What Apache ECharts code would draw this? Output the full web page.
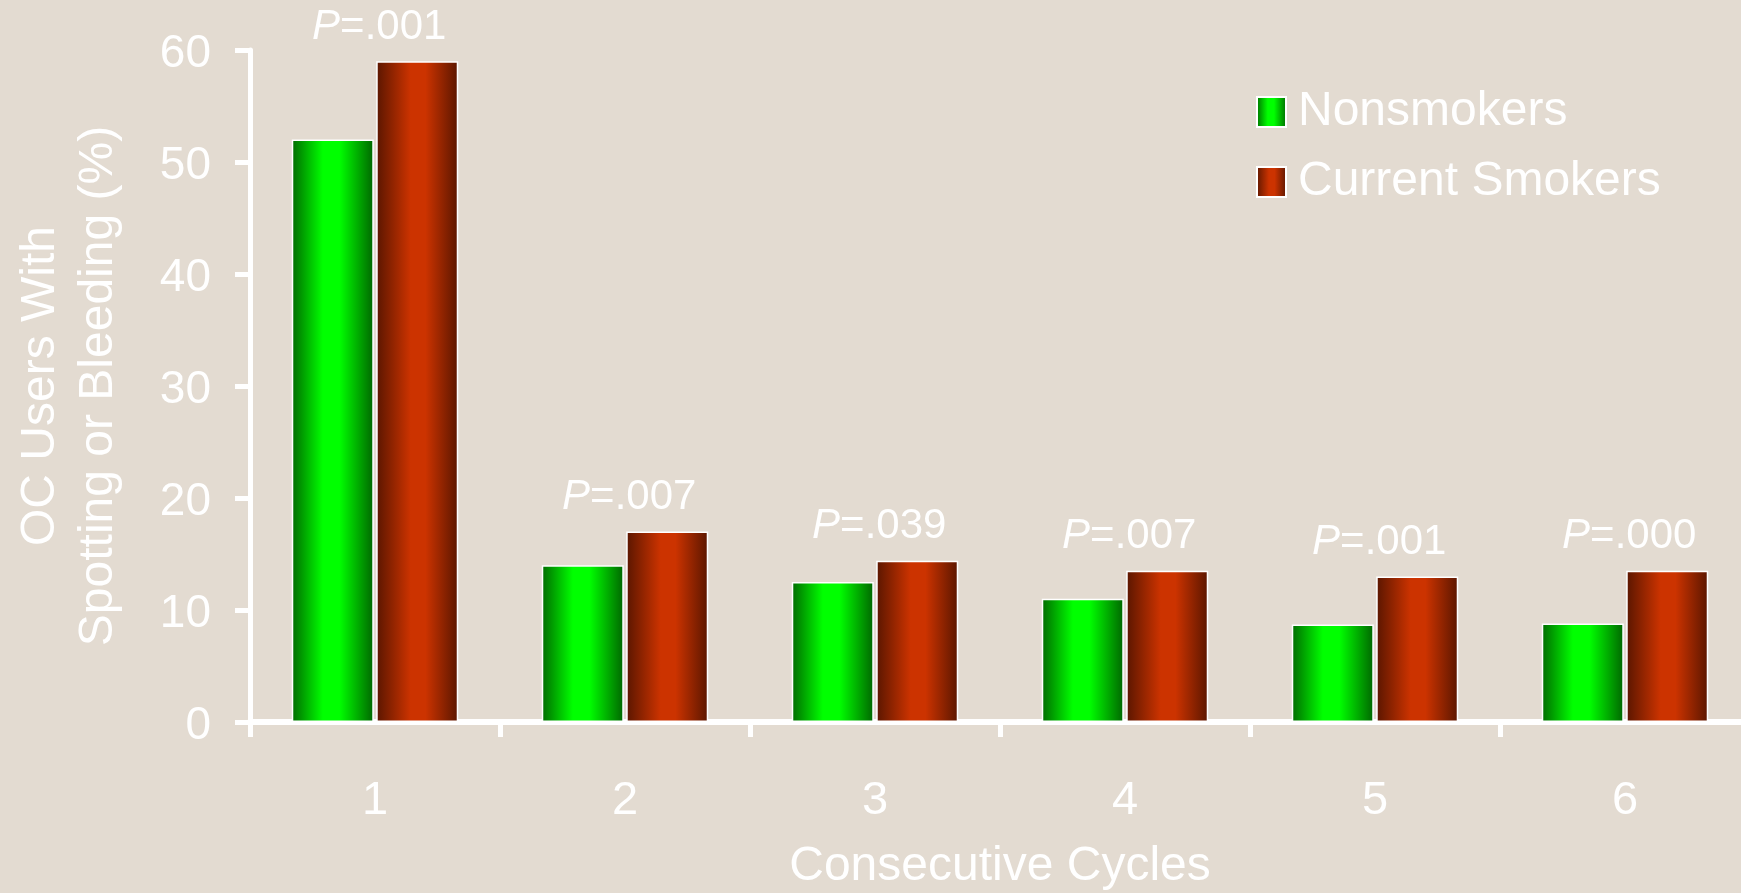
<!DOCTYPE html>
<html>
<head>
<meta charset="utf-8">
<script src="https://cdn.jsdelivr.net/npm/echarts@6/dist/echarts.min.js"></script>
<style>
html,body{margin:0;padding:0;background:#e3dbd1;overflow:hidden;}
#c{width:1741px;height:893px;}
</style>
</head>
<body>
<div id="c"></div>
<script>
const categories = ['1', '2', '3', '4', '5', '6'];
const nonsmokers = [52, 14, 12.5, 11, 8.7, 8.8];
const smokers = [59, 17, 14.4, 13.5, 13, 13.5];
const pValues = ['.001', '.007', '.039', '.007', '.001', '.000'];
const seriesNames = ['Nonsmokers', 'Current Smokers'];
const yTicks = { min: 0, max: 60, interval: 10 };

const FONT = '"Liberation Sans", Arial, sans-serif';
const WHITE = '#ffffff';

const greenGrad = {
  type: 'linear', x: 0, y: 0, x2: 1, y2: 0,
  colorStops: [
    { offset: 0, color: '#006a00' },
    { offset: 0.38, color: '#00ff00' },
    { offset: 0.58, color: '#00ff00' },
    { offset: 1, color: '#006600' }
  ]
};
const redGrad = {
  type: 'linear', x: 0, y: 0, x2: 1, y2: 0,
  colorStops: [
    { offset: 0, color: '#5a1600' },
    { offset: 0.42, color: '#cc3300' },
    { offset: 0.6, color: '#cc3300' },
    { offset: 1, color: '#5a1600' }
  ]
};

const chart = echarts.init(document.getElementById('c'));
chart.setOption({
  backgroundColor: '#e3dbd1',
  animation: false,
  textStyle: { fontFamily: FONT },
  grid: { left: 250, top: 50, width: 1500, height: 672, containLabel: false, outerBoundsMode: 'none' },
  legend: {
    orient: 'vertical',
    left: 1251,
    top: 83,
    itemWidth: 29,
    itemHeight: 30,
    itemGap: 22,
    itemTextGap: 22,
    icon: 'rect',
    textStyle: { color: WHITE, fontSize: 48, lineHeight: 48, fontFamily: FONT, padding: [0, 0, 0, 7] },
    data: seriesNames
  },
  xAxis: {
    type: 'category',
    data: categories,
    name: 'Consecutive Cycles',
    nameLocation: 'middle',
    nameGap: 121,
    nameTextStyle: { color: WHITE, fontSize: 48, fontFamily: FONT },
    axisLine: { show: true, lineStyle: { color: WHITE, width: 6 } },
    axisTick: { show: true, length: 15, lineStyle: { color: WHITE, width: 5 }, alignWithLabel: false },
    axisLabel: { color: WHITE, fontSize: 47, margin: 56, fontFamily: FONT },
    splitLine: { show: false }
  },
  yAxis: {
    type: 'value',
    min: yTicks.min,
    max: yTicks.max,
    interval: yTicks.interval,
    name: 'OC Users With\nSpotting or Bleeding (%)',
    nameLocation: 'middle',
    nameRotate: 90,
    nameGap: 122,
    nameTextStyle: { color: WHITE, fontSize: 48, lineHeight: 58, fontFamily: FONT, align: 'center' },
    axisLine: { show: true, lineStyle: { color: WHITE, width: 5 } },
    axisTick: { show: true, length: 15, lineStyle: { color: WHITE, width: 5 } },
    axisLabel: {
      color: WHITE, fontSize: 46, margin: 39, fontFamily: FONT,
      formatter: function (v) { return '{v|' + v + '}'; },
      rich: { v: { color: WHITE, fontSize: 46, fontFamily: FONT, lineHeight: 46, padding: [8, 0, 0, 0] } }
    },
    splitLine: { show: false }
  },
  series: [
    {
      name: seriesNames[0],
      type: 'bar',
      data: nonsmokers,
      barWidth: 82,
      barGap: '3%',
      itemStyle: { color: greenGrad, borderColor: WHITE, borderWidth: 1.5 }
    },
    {
      name: seriesNames[1],
      type: 'bar',
      data: smokers,
      barWidth: 82,
      barGap: '3%',
      itemStyle: { color: redGrad, borderColor: WHITE, borderWidth: 1.5 },
      label: {
        show: true,
        position: 'top',
        distance: 13,
        offset: [-38, 0],
        formatter: function (p) { return '{i|P}{n|=' + pValues[p.dataIndex] + '}'; },
        rich: {
          i: { color: WHITE, fontSize: 42, fontStyle: 'italic', fontFamily: FONT, lineHeight: 42 },
          n: { color: WHITE, fontSize: 42, fontFamily: FONT, lineHeight: 42 }
        }
      }
    }
  ]
});
</script>
</body>
</html>
